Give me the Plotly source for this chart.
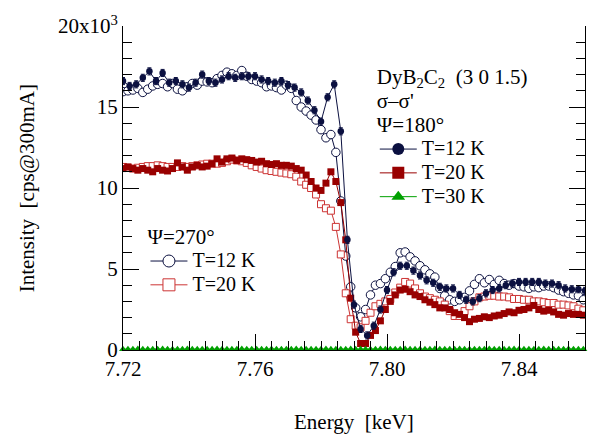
import plotly.graph_objects as go

# ---------------- data ----------------
# energy grids (keV)
energy_fine = [7.7200, 7.7215, 7.7230, 7.7245, 7.7260, 7.7275, 7.7290, 7.7305, 7.7320, 7.7335,
               7.7350, 7.7365, 7.7380, 7.7395, 7.7410, 7.7425, 7.7440, 7.7455, 7.7470, 7.7485,
               7.7500, 7.7515, 7.7530, 7.7545, 7.7560, 7.7575, 7.7590, 7.7605, 7.7620, 7.7635,
               7.7650, 7.7665, 7.7680, 7.7695, 7.7710, 7.7725, 7.7740, 7.7755, 7.7770, 7.7785,
               7.7800, 7.7815, 7.7830, 7.7845, 7.7860, 7.7875, 7.7890, 7.7905, 7.7920, 7.7935,
               7.7950, 7.7965, 7.7980, 7.7995, 7.8010, 7.8025, 7.8040, 7.8055, 7.8070, 7.8085,
               7.8100, 7.8115, 7.8130, 7.8145, 7.8160, 7.8175, 7.8190, 7.8205, 7.8220, 7.8235,
               7.8250, 7.8265, 7.8280, 7.8295, 7.8310, 7.8325, 7.8340, 7.8355, 7.8370, 7.8385,
               7.8400, 7.8415, 7.8430, 7.8445, 7.8460, 7.8475, 7.8490, 7.8505, 7.8520, 7.8535,
               7.8550, 7.8565, 7.8580, 7.8595]

energy_coarse = [7.720, 7.722, 7.724, 7.726, 7.728, 7.730, 7.732, 7.734, 7.736, 7.738,
                 7.740, 7.742, 7.744, 7.746, 7.748, 7.750, 7.752, 7.754, 7.756, 7.758,
                 7.760, 7.762, 7.764, 7.766, 7.768, 7.770, 7.772, 7.774, 7.776, 7.778,
                 7.780, 7.782, 7.784, 7.786, 7.788, 7.790, 7.792, 7.794, 7.796, 7.798,
                 7.800, 7.802, 7.804, 7.806, 7.808, 7.810, 7.812, 7.814, 7.816, 7.818,
                 7.820, 7.822, 7.824, 7.826, 7.828, 7.830, 7.832, 7.834, 7.836, 7.838,
                 7.840, 7.842, 7.844, 7.846, 7.848, 7.850, 7.852, 7.854, 7.856, 7.858,
                 7.860]

# Psi=180 deg, T=12 K (x10^3 cps), on energy_coarse
psi180_T12 = [16.6, 16.3, 16.4, 16.8, 17.2, 16.6, 17.1, 16.5, 16.6, 16.4,
              16.2, 16.5, 17.0, 16.6, 16.5, 16.7, 16.9, 16.8, 16.9, 16.9,
              16.9, 16.7, 16.6, 16.5, 16.6, 16.35, 16.2, 15.9, 15.4, 14.8,
              14.1, 15.6, 16.4, 13.5, 6.8, 2.8, 1.3, 0.9, 1.5, 2.5,
              3.7, 4.8, 5.2, 5.2, 4.9, 4.6, 4.3, 4.15, 3.9, 3.8,
              3.8, 3.4, 3.1, 3.0, 3.2, 3.5, 3.7, 3.8, 4.0, 4.1,
              4.2, 4.2, 4.2, 4.2, 4.1, 4.1, 4.0, 3.8, 3.75, 3.75,
              3.65]

# Psi=180 deg, T=20 K, on energy_fine
psi180_T20 = [11.2, 11.3, 11.2, 11.1, 11.2, 11.1, 11.0, 11.2, 11.1, 11.05,
              11.2, 11.55, 11.3, 11.1, 11.3, 11.4, 11.3, 11.35, 11.5, 11.8,
              11.6, 11.8, 11.85, 11.7, 11.8, 11.75, 11.7, 11.6, 11.65, 11.5,
              11.45, 11.5, 11.4, 11.4, 11.35, 11.2, 11.1, 10.8, 10.4, 10.0,
              9.85, 10.3, 11.0, 10.4, 9.1, 6.8, 3.2, 1.1, 0.4, 0.4,
              0.9, 1.2, 1.8, 2.5, 3.0, 3.4, 3.7, 3.75, 3.6, 3.4,
              3.3, 3.1, 2.95, 2.8, 2.6, 2.6, 2.5, 2.3, 2.2, 2.0,
              1.75, 1.9, 1.95, 2.05, 2.0, 2.1, 2.15, 2.25, 2.35, 2.3,
              2.45, 2.5, 2.6, 2.75, 2.5, 2.4, 2.45, 2.35, 2.2, 2.15,
              2.25, 2.2, 2.2, 2.15]

# Psi=180 deg, T=30 K, on energy_fine
psi180_T30 = [0.05, 0.04, 0.05, 0.06, 0.05, 0.04, 0.05, 0.05, 0.06, 0.05,
              0.04, 0.05, 0.05, 0.06, 0.05, 0.04, 0.05, 0.05, 0.05, 0.06,
              0.05, 0.04, 0.05, 0.05, 0.06, 0.05, 0.04, 0.05, 0.05, 0.05,
              0.06, 0.05, 0.04, 0.05, 0.05, 0.06, 0.05, 0.04, 0.05, 0.05,
              0.05, 0.06, 0.05, 0.04, 0.05, 0.05, 0.06, 0.05, 0.04, 0.05,
              0.05, 0.05, 0.06, 0.05, 0.04, 0.05, 0.05, 0.06, 0.05, 0.04,
              0.05, 0.05, 0.05, 0.06, 0.05, 0.04, 0.05, 0.05, 0.06, 0.05,
              0.04, 0.05, 0.05, 0.05, 0.06, 0.05, 0.04, 0.05, 0.05, 0.06,
              0.05, 0.04, 0.05, 0.05, 0.05, 0.06, 0.05, 0.04, 0.05, 0.05,
              0.06, 0.05, 0.04, 0.05]

# Psi=270 deg, T=12 K, on energy_fine
psi270_T12 = [15.95, 16.0, 16.05, 16.15, 15.9, 16.1, 16.3, 16.4, 16.45, 16.25,
              16.45, 16.1, 16.0, 16.25, 16.45, 16.35, 16.6, 16.55, 16.5, 16.75,
              16.95, 17.15, 17.05, 16.95, 17.25, 16.9, 16.7, 16.6, 16.5, 16.25,
              16.3, 16.2, 16.05, 16.35, 16.15, 15.4, 15.0, 14.75, 14.5, 14.2,
              13.6, 13.1, 13.3, 12.2, 9.2, 5.8, 3.9, 2.6, 2.05, 2.5,
              3.4, 4.0, 4.1, 4.4, 4.8, 5.15, 6.0, 6.05, 5.75, 5.5,
              5.2, 4.95, 4.7, 4.5, 3.8, 3.35, 3.1, 3.0, 3.1, 3.25,
              3.65, 4.05, 4.4, 4.15, 4.35, 4.05, 4.3, 4.1, 4.0, 4.1,
              3.95, 3.9, 3.8, 3.9, 3.85, 3.95, 3.95, 3.85, 3.7, 3.6,
              3.5, 3.4, 3.35, 3.1]

# Psi=270 deg, T=20 K, on energy_fine
psi270_T20 = [11.3, 11.25, 11.2, 11.25, 11.3, 11.35, 11.35, 11.4, 11.35, 11.3,
              11.3, 11.3, 11.35, 11.3, 11.35, 11.4, 11.45, 11.5, 11.5, 11.5,
              11.55, 11.65, 11.75, 11.7, 11.65, 11.55, 11.4, 11.3, 11.2, 11.1,
              11.05, 11.0, 10.95, 10.9, 10.85, 10.7, 10.4, 10.2, 10.0, 9.6,
              9.0, 8.75, 8.6, 7.6, 5.9, 3.5, 1.9, 1.5, 1.4, 1.8,
              2.3, 2.7, 2.85, 3.0, 3.15, 3.55, 3.85, 4.2, 4.1, 3.8,
              3.5, 3.3, 3.2, 3.1, 3.0, 2.8, 2.4, 2.1, 2.1, 2.4,
              2.7, 3.0, 3.25, 3.3, 3.35, 3.35, 3.3, 3.3, 3.25, 3.15,
              3.15, 3.1, 3.1, 3.0, 3.0, 2.95, 2.9, 2.9, 2.8, 2.8,
              2.75, 2.7, 2.55, 2.45]

x_tick_vals = [7.72, 7.76, 7.80, 7.84]
x_tick_text = ["7.72", "7.76", "7.80", "7.84"]
y_tick_vals = [0, 5, 10, 15, 20]
y_tick_text = ["0", "5", "10", "15", "20x10<sup>3</sup>"]

# ---------------- style ----------------
NAVY = "#0b1040"
DRED = "#990000"
LRED = "#cc3333"
GREEN = "#00a000"
FONT = "Liberation Serif"


def big(s, px=20):
    return "<span style='font-size:%dpx'>%s</span>" % (px, s)


fig = go.Figure()

# Psi = 270 (open symbols)
fig.add_trace(go.Scatter(x=energy_fine, y=psi270_T12, mode="lines+markers",
                         line=dict(color=NAVY, width=1),
                         marker=dict(symbol="circle", size=8.5, color="white",
                                     line=dict(color=NAVY, width=1)),
                         showlegend=False))
fig.add_trace(go.Scatter(x=energy_fine, y=psi270_T20, mode="lines+markers",
                         line=dict(color=LRED, width=1),
                         marker=dict(symbol="square", size=7, color="white",
                                     line=dict(color=LRED, width=1)),
                         showlegend=False))
# Psi = 180 (filled symbols)
fig.add_trace(go.Scatter(x=energy_fine, y=psi180_T20, mode="lines+markers",
                         line=dict(color=DRED, width=1),
                         marker=dict(symbol="square", size=7, color=DRED),
                         showlegend=False))
fig.add_trace(go.Scatter(x=energy_coarse, y=psi180_T12, mode="lines+markers",
                         line=dict(color=NAVY, width=1),
                         marker=dict(symbol="circle", size=6.5, color=NAVY),
                         error_y=dict(type="constant", value=0.22, color=NAVY,
                                      thickness=1, width=2),
                         showlegend=False))
fig.add_trace(go.Scatter(x=energy_fine, y=psi180_T30, mode="lines+markers",
                         line=dict(color=GREEN, width=1),
                         marker=dict(symbol="triangle-up", size=7, color=GREEN),
                         cliponaxis=False, showlegend=False))

# legend entries (bigger symbols, as in the reference)
fig.add_trace(go.Scatter(x=[None], y=[None], mode="lines+markers", name=big("T=12 K"),
                         line=dict(color=NAVY, width=1),
                         marker=dict(symbol="circle", size=12, color=NAVY),
                         legend="legend"))
fig.add_trace(go.Scatter(x=[None], y=[None], mode="lines+markers", name=big("T=20 K"),
                         line=dict(color=DRED, width=1),
                         marker=dict(symbol="square", size=12, color=DRED),
                         legend="legend"))
fig.add_trace(go.Scatter(x=[None], y=[None], mode="lines+markers", name=big("T=30 K"),
                         line=dict(color=GREEN, width=1),
                         marker=dict(symbol="triangle-up", size=12, color=GREEN),
                         legend="legend"))
fig.add_trace(go.Scatter(x=[None], y=[None], mode="lines+markers", name=big("T=12 K"),
                         line=dict(color=NAVY, width=1),
                         marker=dict(symbol="circle", size=12, color="white",
                                     line=dict(color=NAVY, width=1)),
                         legend="legend2"))
fig.add_trace(go.Scatter(x=[None], y=[None], mode="lines+markers", name=big("T=20 K"),
                         line=dict(color=LRED, width=1),
                         marker=dict(symbol="square", size=12, color="white",
                                     line=dict(color=LRED, width=1)),
                         legend="legend2"))

axis_common = dict(showgrid=False, zeroline=False, showline=True, linecolor="black",
                   linewidth=1, ticks="inside", tickcolor="black", tickwidth=1,
                   ticklen=16, automargin=False,
                   tickfont=dict(family=FONT, size=21, color="black"))

fig.update_xaxes(range=[7.72, 7.86], tickvals=x_tick_vals, ticktext=x_tick_text,
                 minor=dict(dtick=0.005, ticks="inside", ticklen=9, tickcolor="black"),
                 mirror=False, **axis_common)
fig.update_yaxes(range=[0, 20], tickvals=y_tick_vals, ticktext=y_tick_text,
                 minor=dict(dtick=1, ticks="inside", ticklen=9, tickcolor="black"),
                 mirror="ticks", **axis_common)

fig.add_annotation(text="Energy&nbsp; [keV]", xref="paper", yref="paper",
                   x=0.5, y=-0.222, xanchor="center", yanchor="middle", showarrow=False,
                   font=dict(family=FONT, size=21, color="black"))
fig.add_annotation(text="Intensity&nbsp; [cps@300mA]", xref="paper", yref="paper",
                   x=-0.207, y=0.5, xanchor="center", yanchor="middle", showarrow=False,
                   textangle=-90, font=dict(family=FONT, size=21, color="black"))

title1 = big("DyB<sub>2</sub>C<sub>2</sub>&nbsp; (3 0 1.5)", 21) + "<br>" + big("σ–σ'", 21) \
    + "<br>" + big("Ψ=180°", 21)

fig.update_layout(
    width=589, height=435,
    margin=dict(l=123, r=4, t=26, b=85, autoexpand=False),
    paper_bgcolor="white", plot_bgcolor="white",
    font=dict(family=FONT, size=16, color="black"),
    legend=dict(x=0.545, y=0.895, xanchor="left", yanchor="top",
                bgcolor="rgba(0,0,0,0)", tracegroupgap=0, itemwidth=37,
                title=dict(text=title1, font=dict(family=FONT, size=18.5)),
                font=dict(family=FONT, size=16)),
    legend2=dict(x=0.0486, y=0.403, xanchor="left", yanchor="top",
                 bgcolor="rgba(0,0,0,0)", tracegroupgap=0, itemwidth=37,
                 title=dict(text=big("Ψ=270°", 21), font=dict(family=FONT, size=19)),
                 font=dict(family=FONT, size=16)),
)

fig.write_html("out.html", config={"displayModeBar": False},
               post_script="document.body.style.margin='0px';")
